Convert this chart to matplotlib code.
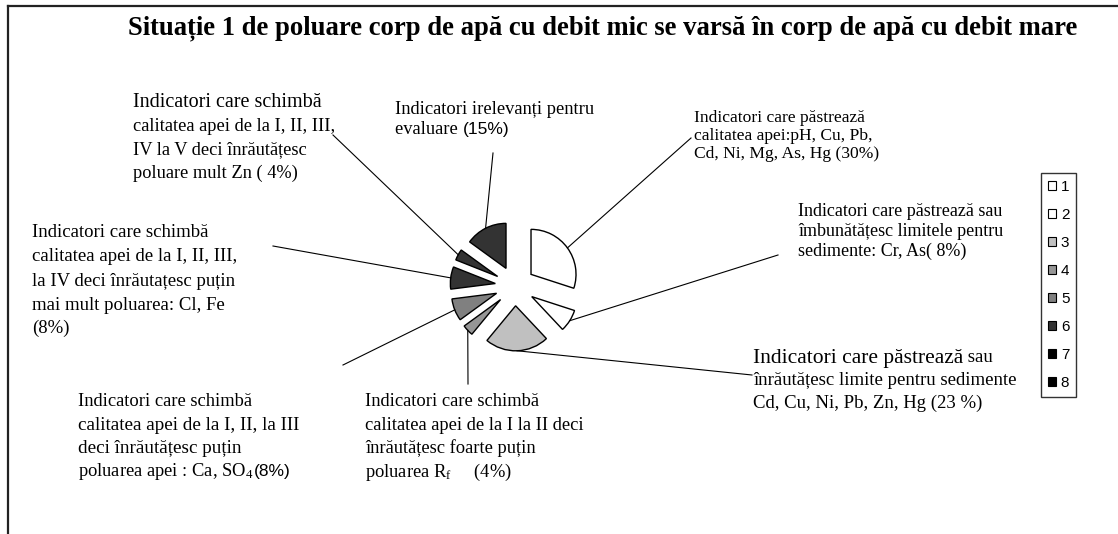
import numpy as np
import matplotlib
matplotlib.use("Agg")
import matplotlib.pyplot as plt
from matplotlib.patches import Patch

plt.rcParams['mathtext.fontset'] = 'custom'
plt.rcParams['mathtext.rm'] = 'Liberation Serif'
plt.rcParams['mathtext.it'] = 'Liberation Serif:italic'

W, H = 1118, 534
SERIF = 'Liberation Serif'
SANS = 'Liberation Sans'

# pie data (percent), clockwise from 12 o'clock
categories = ['1', '2', '3', '4', '5', '6', '7', '8']
values = [30, 8, 23, 4, 8, 8, 4, 15]
pie_colors = ['white', 'white', '#c0c0c0', '#969696', '#808080', '#333333', '#333333', '#333333']
legend_colors = ['white', 'white', '#c0c0c0', '#969696', '#808080', '#333333', 'black', 'black']

title = 'Situație 1 de poluare corp de apă cu debit mic se varsă în corp de apă cu debit mare'

# labels: list of lines, each line a list of (text, size, family)
labels = [
    [[('Indicatori care păstrează', 12.6, SERIF)],
     [('calitatea apei:pH, Cu, Pb,', 12.6, SERIF)],
     [('Cd, Ni, Mg, As, Hg (30%)', 12.6, SERIF)]],
    [[('Indicatori care păstrează sau', 13, SERIF)],
     [('îmbunătățesc limitele pentru', 13, SERIF)],
     [('sedimente: Cr, As( 8%)', 13, SERIF)]],
    [[('Indicatori care păstrează', 15.5, SERIF), (' sau', 13.5, SERIF)],
     [('înrăutățesc limite pentru sedimente', 13.5, SERIF)],
     [('Cd, Cu, Ni, Pb, Zn, Hg (23 %)', 13.5, SERIF)]],
    [[('Indicatori care schimbă', 13.3, SERIF)],
     [('calitatea apei de la I la II deci', 13.3, SERIF)],
     [('înrăutățesc foarte puțin', 13.3, SERIF)],
     [(r'poluarea R$_\mathrm{f}$     (4%)', 13.3, SERIF)]],
    [[('Indicatori care schimbă', 13.3, SERIF)],
     [('calitatea apei de la I, II, la III', 13.8, SERIF)],
     [('deci înrăutățesc puțin', 13.8, SERIF)],
     [(r'poluarea apei : Ca, SO$_4$ ', 13.3, SERIF), ('(8%)', 12.5, SANS)]],
    [[('Indicatori care schimbă', 13.5, SERIF)],
     [('calitatea apei de la I, II, III,', 13.5, SERIF)],
     [('la IV deci înrăutațesc puțin', 13.5, SERIF)],
     [('mai mult poluarea: Cl, Fe', 13.5, SERIF)],
     [('(8%)', 13.5, SERIF)]],
    [[('Indicatori care schimbă', 14.5, SERIF)],
     [('calitatea apei de la I, II, III,', 13.2, SERIF)],
     [('IV la V deci înrăutățesc', 13.2, SERIF)],
     [('poluare mult Zn ( 4%)', 13.2, SERIF)]],
    [[('Indicatori irelevanți pentru', 13.3, SERIF)],
     [('evaluare ', 13.3, SERIF), ('(15%)', 12.5, SANS)]],
]
# label placement: left x, line centre y's (pixels from top), leader end
label_x = [694, 798, 753, 365, 78, 32, 133, 395]
label_y = [[116, 134, 152], [210, 230, 250], [356, 379, 402],
           [400, 424, 447, 471], [400, 424, 447, 470],
           [231, 255, 280, 304, 327], [100, 125, 148, 172], [108, 128]]
leader_end = [(691, 138), (778, 255), (752, 375), (468, 384),
              (343, 365), (273, 246), (333, 135), (493, 153)]

R = 45
fig = plt.figure(figsize=(W / 100, H / 100), dpi=100)
ax = fig.add_axes([0, 0, 1, 1])

# explode in pie is an absolute offset in data units
wedges, _ = ax.pie(values, colors=pie_colors, startangle=90, counterclock=False,
                   explode=[0.44 * R] * len(values), center=(515, H - 286), radius=R,
                   frame=True, wedgeprops=dict(edgecolor='black', linewidth=1.0))
ax.set_xlim(0, W)
ax.set_ylim(0, H)
ax.set_axis_off()

# frame of the chart area (top and left edges visible)
ax.plot([8, W], [H - 6, H - 6], color='#222222', lw=1.6)
ax.plot([8, 8], [H - 6, 0], color='#222222', lw=1.6)

ax.text(603, H - 34, title, ha='center', va='baseline', fontsize=19.2,
        fontweight='bold', family=SERIF)

renderer = fig.canvas.get_renderer()
for lab, x0, ys in zip(labels, label_x, label_y):
    for parts, yc in zip(lab, ys):
        x = x0
        for txt, size, fam in parts:
            base = H - (yc + 0.33 * size * 100 / 72)
            t = ax.text(x, base, txt, ha='left', va='baseline', fontsize=size, family=fam)
            x = t.get_window_extent(renderer).x1

# leader lines from wedge arc (mid angle) to label
for w, (lx, ly) in zip(wedges, leader_end):
    th = np.deg2rad((w.theta1 + w.theta2) / 2)
    cx, cy = w.center
    px, py = cx + w.r * np.cos(th), cy + w.r * np.sin(th)
    ax.plot([px, lx], [py, H - ly], color='black', lw=0.8)

handles = [Patch(facecolor=c, edgecolor='black', linewidth=0.8) for c in legend_colors]
leg = fig.legend(handles, categories, loc='upper left',
                 bbox_to_anchor=(1041 / W, 1 - 173 / H), borderaxespad=0,
                 frameon=True, fancybox=False, edgecolor='black',
                 prop={'family': SANS, 'size': 11}, handlelength=0.5,
                 handleheight=0.5, handletextpad=0.35, labelspacing=0.92,
                 borderpad=0.45)
leg.get_frame().set_linewidth(1.0)

fig.savefig('out.png', dpi=100)
